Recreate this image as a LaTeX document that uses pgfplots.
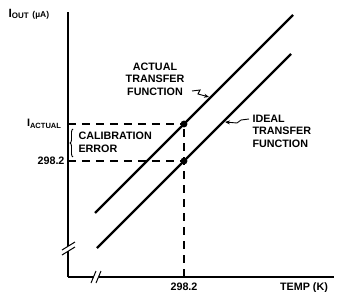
\documentclass[border=0pt]{standalone}
\usepackage{pgfplots}
\pgfplotsset{compat=1.18}
\usepackage{fontspec}
\setmainfont{Liberation Sans}
\usetikzlibrary{decorations.pathreplacing,arrows.meta}
\newcommand{\lf}{\fontsize{10.8}{12.5}\selectfont\bfseries}
\begin{document}
\begin{tikzpicture}
\begin{axis}[
  scale only axis, width=266bp, height=265bp,
  xmin=0, xmax=266, ymin=0, ymax=265,
  axis lines*=left, axis line style={line width=1.5pt},
  clip=false,
  xtick={116}, xticklabels={298.2},
  ytick={116,153}, yticklabels={298.2,I\textsubscript{ACTUAL}\hspace*{3bp}},
  major tick length=0pt,
  tick label style={font=\lf},
  xticklabel style={yshift=-2bp},
]
% transfer functions
\addplot[line width=2.4pt] coordinates {(27,64) (225,262)};
\addplot[line width=2.4pt] coordinates {(29,29) (223,223)};
% dashed guides
\addplot[line width=1.3pt, dash pattern=on 8bp off 6bp] coordinates {(0,153) (116,153)};
\addplot[line width=1.3pt, dash pattern=on 8bp off 6bp] coordinates {(0,116) (116,116)};
\addplot[line width=1.3pt, dash pattern=on 8bp off 6bp] coordinates {(116,0) (116,153)};
% points
\addplot[only marks, mark=*, mark size=3.2pt] coordinates {(116,153) (116,116)};
% axis breaks
\fill[white] (axis cs:-3,26) rectangle (axis cs:3,31);
\draw[line width=1pt] (axis cs:-6,22) -- (axis cs:7,30);
\draw[line width=1pt] (axis cs:-6,27) -- (axis cs:7,35);
\fill[white] (axis cs:26,-3) rectangle (axis cs:31,3);
\draw[line width=1pt] (axis cs:23,-6) -- (axis cs:28,6);
\draw[line width=1pt] (axis cs:28,-6) -- (axis cs:33,6);
% annotations
\node[font=\lf, align=center] at (axis cs:87,198) {ACTUAL\\TRANSFER\\FUNCTION};
\draw[line width=0.9pt, -{Stealth[length=5bp,width=4bp]}] (axis cs:124,186) -- (axis cs:132,187) -- (axis cs:130,183) -- (axis cs:141,180);
\node[font=\lf, align=left, anchor=west] at (axis cs:181,146) {IDEAL\\TRANSFER\\FUNCTION};
\draw[line width=0.9pt, -{Stealth[length=5bp,width=4bp]}] (axis cs:181,158) -- (axis cs:173,157) -- (axis cs:169,154) -- (axis cs:157,155);
\draw[line width=0.9pt, decorate, decoration={brace, amplitude=3bp}] (axis cs:5,120) -- (axis cs:5,148);
\node[font=\lf, align=left, anchor=west] at (axis cs:7,134.5) {CALIBRATION\\ERROR};
\node[font=\lf, anchor=west] at (axis cs:-63,263) {\fontsize{12}{14}\selectfont I\textsubscript{OUT} {\fontsize{8.5}{9}\selectfont(µA)}};
\node[font=\lf] at (axis cs:236,-10.5) {TEMP (K)};
\coordinate (bl) at (axis cs:-68,-15);
\coordinate (tr) at (axis cs:271,277);
\end{axis}
\pgfresetboundingbox
\path[use as bounding box] (bl) rectangle (tr);
\end{tikzpicture}
\end{document}
